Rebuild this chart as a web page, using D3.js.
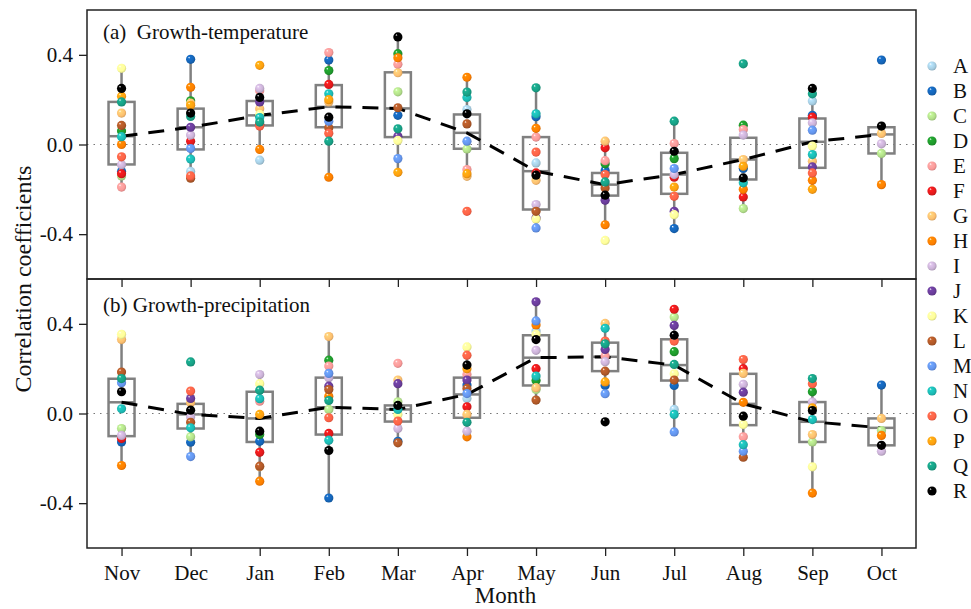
<!DOCTYPE html>
<html>
<head>
<meta charset="utf-8">
<script src="https://cdn.jsdelivr.net/npm/d3@7"></script>
<style>
  body { margin: 0; background: #fff; }
  text { font-family: "Liberation Serif", "Times New Roman", serif; fill: #111; }
</style>
</head>
<body>
<div id="chart"></div>
<script>
var months = ["Nov", "Dec", "Jan", "Feb", "Mar", "Apr", "May", "Jun", "Jul", "Aug", "Sep", "Oct"];
var series = ["A", "B", "C", "D", "E", "F", "G", "H", "I", "J", "K", "L", "M", "N", "O", "P", "Q", "R"];
var colors = ["#a6cee3", "#1565b8", "#b2df8a", "#1f9a2c", "#fb9a99", "#e31a1c", "#fdbf6f", "#ff7f00", "#cab2d6",
  "#6a3d9a", "#ffff99", "#b15928", "#6495ed", "#1cbab4", "#ff6347", "#ffa010", "#17a085", "#000000"];

var n = null;
// growth-temperature, one row per series (A..R), columns Nov..Oct
var tempValues = [
  [n, -0.12, -0.07, n, n, 0.156, -0.082, n, n, n, 0.194, n],
  [-0.12, 0.38, n, 0.377, 0.13, n, 0.124, -0.116, -0.375, -0.107, 0.13, 0.377],
  [-0.14, n, n, n, 0.235, -0.02, n, n, n, -0.286, n, -0.04],
  [0.06, 0.195, n, 0.33, 0.405, n, n, -0.086, -0.063, 0.086, n, n],
  [-0.19, n, 0.24, 0.41, 0.358, -0.112, 0.033, -0.072, 0.004, 0.067, n, n],
  [-0.13, 0.015, 0.09, 0.268, n, n, -0.127, -0.015, -0.146, -0.234, 0.122, n],
  [0.14, 0.185, 0.16, 0.19, 0.32, -0.142, -0.16, 0.015, n, -0.067, -0.075, 0.049],
  [0.0, 0.255, -0.022, -0.146, 0.387, 0.30, 0.072, -0.358, n, -0.2, -0.16, -0.179],
  [-0.09, 0.042, 0.25, n, n, n, -0.268, n, -0.134, 0.042, 0.097, 0.003],
  [n, 0.077, 0.19, n, 0.037, n, -0.328, -0.249, -0.298, n, -0.1, n],
  [0.34, n, 0.134, n, 0.018, n, -0.332, -0.428, -0.313, n, -0.007, n],
  [0.085, -0.15, n, 0.075, 0.164, 0.092, -0.298, -0.194, n, n, n, n],
  [n, -0.018, n, 0.104, -0.063, 0.015, -0.372, n, -0.107, n, 0.064, n],
  [0.035, -0.065, 0.12, 0.226, n, 0.21, 0.137, n, n, -0.171, -0.045, n],
  [-0.055, -0.14, 0.082, 0.05, n, -0.298, -0.034, -0.134, -0.231, n, -0.127, n],
  [0.215, 0.175, 0.353, 0.2, -0.124, -0.13, n, n, -0.19, -0.097, -0.2, n],
  [0.19, 0.125, 0.1, 0.015, 0.07, 0.234, 0.253, -0.167, 0.104, 0.36, 0.226, n],
  [0.25, 0.14, 0.21, 0.122, 0.48, 0.137, -0.137, -0.226, -0.03, -0.149, 0.25, 0.082]
];
// growth-precipitation
var precValues = [
  [n, n, n, n, n, 0.067, 0.368, n, 0.018, n, n, n],
  [-0.127, -0.128, -0.124, -0.377, -0.124, 0.127, n, 0.125, 0.125, n, n, 0.127],
  [-0.067, -0.104, n, 0.018, 0.052, n, 0.107, n, 0.43, n, -0.127, -0.076],
  [n, n, -0.094, 0.238, n, n, 0.147, n, 0.276, n, 0.097, n],
  [n, n, 0.055, 0.212, 0.224, 0.174, n, 0.256, n, -0.104, n, n],
  [-0.112, n, -0.173, -0.089, n, 0.03, 0.2, n, 0.465, 0.2, n, n],
  [0.33, 0.048, -0.238, 0.343, 0.149, -0.004, 0.115, 0.402, n, 0.179, -0.094, -0.022],
  [-0.232, n, -0.302, 0.077, n, -0.104, 0.395, n, n, 0.05, -0.355, -0.098],
  [-0.098, -0.016, 0.174, 0.16, -0.067, -0.079, 0.282, 0.231, n, 0.13, 0.051, -0.168],
  [n, 0.067, n, 0.122, 0.133, 0.149, 0.498, 0.286, 0.393, 0.095, n, n],
  [0.353, n, 0.133, n, -0.004, 0.297, 0.353, n, 0.177, -0.049, -0.238, n],
  [0.185, -0.039, -0.235, 0.107, -0.131, 0.112, 0.06, 0.189, 0.149, -0.195, n, n],
  [0.137, -0.192, n, 0.179, n, 0.089, 0.413, 0.088, -0.082, -0.168, n, n],
  [0.021, -0.064, 0.066, -0.119, 0.018, n, 0.167, 0.38, -0.004, -0.139, -0.027, n],
  [n, 0.1, n, -0.019, -0.034, 0.26, n, 0.323, 0.323, 0.241, 0.133, n],
  [n, n, -0.004, n, n, 0.2, n, 0.141, n, n, 0.025, n],
  [0.156, 0.23, 0.104, 0.058, n, -0.039, n, 0.311, 0.219, n, 0.156, n],
  [0.097, 0.015, -0.079, -0.165, 0.036, 0.216, 0.33, -0.037, 0.349, -0.012, 0.013, -0.142]
];

// box statistics
var tempQ1 = [-0.089, -0.022, 0.085, 0.077, 0.033, -0.019, -0.29, -0.228, -0.22, -0.156, -0.104, -0.04];
var tempMed = [0.037, 0.077, 0.13, 0.168, 0.161, 0.052, -0.119, -0.179, -0.134, -0.067, 0.012, 0.045];
var tempQ3 = [0.19, 0.16, 0.194, 0.265, 0.322, 0.134, 0.033, -0.127, -0.037, 0.03, 0.116, 0.077];
var tempLo = [-0.186, -0.15, -0.022, -0.146, -0.124, -0.142, -0.372, -0.358, -0.375, -0.286, -0.2, -0.179];
var tempHi = [0.34, 0.38, 0.25, 0.41, 0.48, 0.30, 0.253, 0.015, 0.104, 0.086, 0.253, 0.082];

var precQ1 = [-0.101, -0.067, -0.127, -0.094, -0.036, -0.019, 0.125, 0.189, 0.147, -0.052, -0.127, -0.142];
var precMed = [0.05, -0.004, -0.022, 0.028, 0.018, 0.085, 0.249, 0.253, 0.216, 0.043, -0.037, -0.064];
var precQ3 = [0.155, 0.043, 0.097, 0.16, 0.036, 0.16, 0.349, 0.316, 0.331, 0.177, 0.051, -0.022];
var precLo = [-0.232, -0.192, -0.302, -0.377, -0.131, -0.104, 0.06, 0.088, -0.082, -0.195, -0.355, -0.168];
var precHi = [0.353, 0.1, 0.174, 0.343, 0.149, 0.297, 0.498, 0.402, 0.465, 0.241, 0.156, 0.127];

var yTicks = [-0.4, 0, 0.4];

var width = 971, height = 609;
var left = 87, right = 916;
var panels = [
  { title: "(a)  Growth-temperature", top: 10, bottom: 279, titleY: 39, values: tempValues,
    q1: tempQ1, med: tempMed, q3: tempQ3, lo: tempLo, hi: tempHi, labels: false },
  { title: "(b) Growth-precipitation", top: 279, bottom: 548, titleY: 312, values: precValues,
    q1: precQ1, med: precMed, q3: precQ3, lo: precLo, hi: precHi, labels: true }
];

var svg = d3.select("#chart").append("svg")
  .attr("width", width)
  .attr("height", height);

var defs = svg.append("defs");
// glossy marker look
colors.forEach(function(c, i) {
  var g = defs.append("radialGradient")
    .attr("id", "dot" + i)
    .attr("cx", "45%").attr("cy", "45%").attr("r", "60%")
    .attr("fx", "32%").attr("fy", "28%");
  g.append("stop").attr("offset", "0%").attr("stop-color", "#ffffff");
  g.append("stop").attr("offset", "22%").attr("stop-color", d3.rgb(c).brighter(0.3));
  g.append("stop").attr("offset", "70%").attr("stop-color", c);
  g.append("stop").attr("offset", "100%").attr("stop-color", d3.rgb(c).darker(0.6));
});

var x = d3.scalePoint()
  .domain(months)
  .range([left, right])
  .padding(0.5);

var boxW = 26, dotR = 4.6;

panels.forEach(function(p) {
  var y = d3.scaleLinear().domain([-0.6, 0.6]).range([p.bottom, p.top]);
  var g = svg.append("g");

  // zero reference
  g.append("line")
    .attr("x1", left).attr("x2", right)
    .attr("y1", y(0)).attr("y2", y(0))
    .attr("stroke", "#777")
    .attr("stroke-width", 1.2)
    .attr("stroke-dasharray", "1.5,5");

  // boxes
  var box = g.selectAll(".box")
    .data(months)
    .enter().append("g")
    .attr("class", "box")
    .attr("stroke", "#808080")
    .attr("stroke-width", 2.5)
    .attr("fill", "none");

  box.append("line")
    .attr("x1", function(d) { return x(d); })
    .attr("x2", function(d) { return x(d); })
    .attr("y1", function(d, i) { return y(p.hi[i]); })
    .attr("y2", function(d, i) { return y(p.q3[i]); });
  box.append("line")
    .attr("x1", function(d) { return x(d); })
    .attr("x2", function(d) { return x(d); })
    .attr("y1", function(d, i) { return y(p.q1[i]); })
    .attr("y2", function(d, i) { return y(p.lo[i]); });
  box.append("rect")
    .attr("x", function(d) { return x(d) - boxW / 2; })
    .attr("width", boxW)
    .attr("y", function(d, i) { return y(p.q3[i]); })
    .attr("height", function(d, i) { return y(p.q1[i]) - y(p.q3[i]); });
  box.append("line")
    .attr("x1", function(d) { return x(d) - boxW / 2; })
    .attr("x2", function(d) { return x(d) + boxW / 2; })
    .attr("y1", function(d, i) { return y(p.med[i]); })
    .attr("y2", function(d, i) { return y(p.med[i]); });

  // median trend
  var line = d3.line()
    .x(function(d, i) { return x(months[i]); })
    .y(function(d) { return y(d); });
  g.append("path")
    .datum(p.med)
    .attr("d", line)
    .attr("fill", "none")
    .attr("stroke", "#000")
    .attr("stroke-width", 3)
    .attr("stroke-dasharray", "16,11");

  // dots, series drawn in order so R sits on top
  p.values.forEach(function(row, si) {
    g.selectAll(".s" + si)
      .data(row.map(function(v, i) { return { m: months[i], v: v }; })
        .filter(function(d) { return d.v !== null; }))
      .enter().append("circle")
      .attr("class", "s" + si)
      .attr("cx", function(d) { return x(d.m); })
      .attr("cy", function(d) { return y(d.v); })
      .attr("r", dotR)
      .attr("fill", "url(#dot" + si + ")");
  });

  // frame
  g.append("rect")
    .attr("x", left).attr("y", p.top)
    .attr("width", right - left).attr("height", p.bottom - p.top)
    .attr("fill", "none")
    .attr("stroke", "#222")
    .attr("stroke-width", 1.5);

  // axes
  var yAxis = g.append("g")
    .attr("transform", "translate(" + left + ",0)")
    .call(d3.axisLeft(y).tickValues(yTicks).tickSize(8).tickPadding(6)
      .tickFormat(function(d) { return d.toFixed(1); }));
  yAxis.select(".domain").remove();
  yAxis.selectAll("line").attr("stroke", "#222").attr("stroke-width", 1.3);
  yAxis.selectAll("text")
    .attr("font-size", 21)
    .attr("font-family", "Liberation Serif, serif")
    .attr("fill", "#111");

  var xAxis = g.append("g")
    .attr("transform", "translate(0," + p.bottom + ")")
    .call(d3.axisBottom(x).tickSize(8).tickPadding(9)
      .tickFormat(p.labels ? null : ""));
  xAxis.select(".domain").remove();
  xAxis.selectAll("line").attr("stroke", "#222").attr("stroke-width", 1.3);
  xAxis.selectAll("text")
    .attr("font-size", 21)
    .attr("font-family", "Liberation Serif, serif")
    .attr("fill", "#111");

  g.append("text")
    .attr("x", 103)
    .attr("y", p.titleY)
    .attr("font-size", 21)
    .style("white-space", "pre")
    .text(p.title);
});

// axis titles
svg.append("text")
  .attr("transform", "translate(31," + ((10 + 548) / 2) + ") rotate(-90)")
  .attr("text-anchor", "middle")
  .attr("font-size", 24)
  .text("Correlation coefficients");

svg.append("text")
  .attr("x", (left + right) / 2 + 4)
  .attr("y", 603)
  .attr("text-anchor", "middle")
  .attr("font-size", 23)
  .text("Month");

// legend
var legend = svg.append("g")
  .selectAll("g")
  .data(series)
  .enter().append("g")
  .attr("transform", function(d, i) { return "translate(932," + (66 + i * 25) + ")"; });

legend.append("circle")
  .attr("r", dotR)
  .attr("fill", function(d, i) { return "url(#dot" + i + ")"; });

legend.append("text")
  .attr("x", 21)
  .attr("dy", "0.35em")
  .attr("font-size", 21)
  .text(function(d) { return d; });
</script>
</body>
</html>
